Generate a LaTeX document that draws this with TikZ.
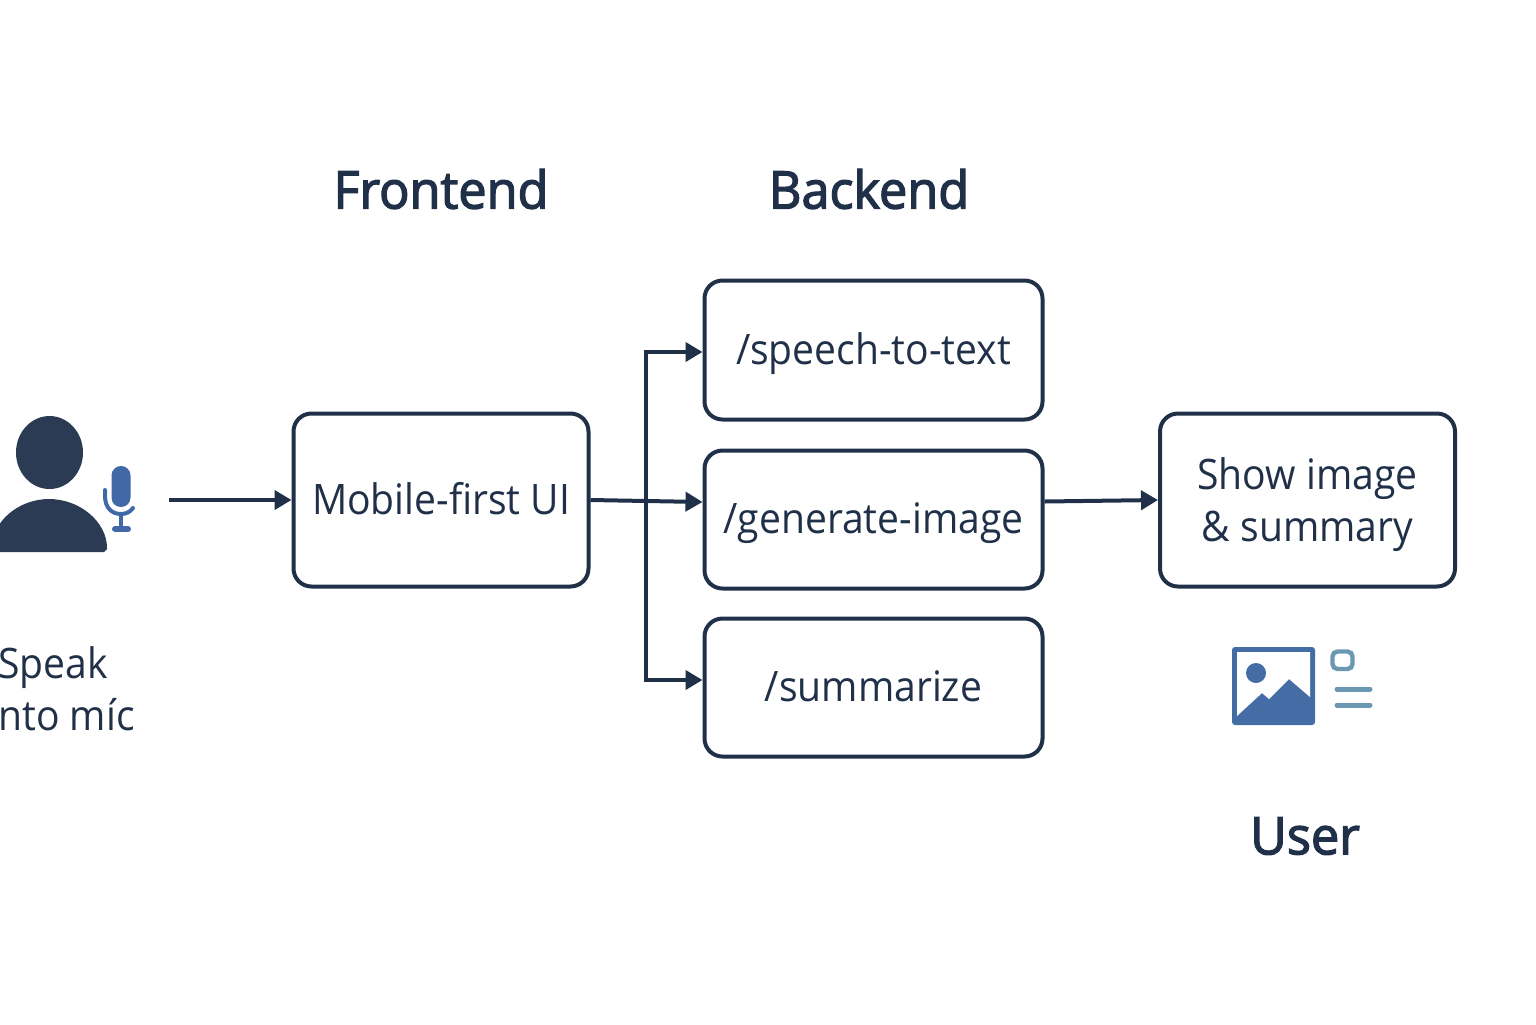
\documentclass[tikz,border=0pt]{standalone}
\usepackage{fontspec}
\usepackage{tikz}
\usetikzlibrary{arrows.meta}
\setmainfont[FakeStretch=0.93]{Open Sans}
\newfontfamily\headfont[FakeStretch=0.97,FakeBold=2.5]{Open Sans}
\definecolor{navy}{HTML}{1F3048}
\definecolor{person}{HTML}{2A3B53}
\definecolor{micblue}{HTML}{4169A8}
\definecolor{picblue}{HTML}{446DA5}
\definecolor{docblue}{HTML}{6A98B3}
\tikzset{
  box/.style={draw=navy,line width=2pt,rounded corners=9pt,text=navy,font=\fontsize{21}{26}\selectfont,align=center,inner sep=0pt},
  onebox/.style={box,text height=18pt,text depth=4pt},
  head/.style={text=navy,font=\headfont\fontsize{26}{30}\selectfont,inner sep=0pt},
  lab/.style={text=navy,font=\fontsize{21}{26}\selectfont,inner sep=0pt},
  flow/.style={draw=navy,line width=2pt,-{Triangle[length=8.5pt,width=9.5pt]}}
}
\begin{document}
\begin{tikzpicture}[x=0.5pt,y=-0.5pt]
  \useasboundingbox (0,0) rectangle (1536,1024);
  % column titles
  \node[head] (front) at (441,189) {Frontend};
  \node[head] (back)  at (869,189) {Backend};
  \node[head] (user)  at (1305,836) {User};
  % boxes, corners given in reference pixels
  \node[onebox,minimum width=147.5pt,minimum height=86.5pt] (ui)  at (441,500) {Mobile-first UI};
  \node[onebox,minimum width=169pt,minimum height=69.5pt]   (spe) at (873.5,350) {/speech-to-text};
  \node[onebox,minimum width=169pt,minimum height=69pt]     (gen) at (873.5,519.5) {/generate-image};
  \node[onebox,minimum width=169pt,minimum height=69pt]     (sum) at (873.5,687.5) {/summarize};
  \node[box,minimum width=147.5pt,minimum height=86.5pt] (show) at (1307.5,500) {\rule{0pt}{21pt}Show image\\\& summary};
  \node[lab,anchor=west,align=left] (mic) at (-2,689) {Speak\\nto míc};
  % person and microphone
  \fill[person] (49.5,452.5) ellipse [x radius=33.5,y radius=36.5];
  \fill[person] (-9,552) .. controls (-9,520) and (20,499) .. (49,499)
    .. controls (80,499) and (107,522) .. (107,548) -- (107,549) -- (104,552) -- cycle;
  \fill[micblue,rounded corners=4.7pt] (111.5,466) rectangle (130.5,507);
  \draw[micblue,line width=2pt,line cap=round] (105,490) -- (105,496)
    .. controls (105,508) and (112,514) .. (121,514) .. controls (126,514) and (130,512) .. (133,508);
  \draw[micblue,line width=2.2pt] (121,514) -- (121,529);
  \draw[micblue,line width=3pt,line cap=round] (115,529) -- (128,529);
  % picture and text icon
  \fill[picblue,rounded corners=1.5pt] (1232,647) rectangle (1315,725);
  \fill[white] (1237,652) -- (1310,652) -- (1310,697) -- (1289,679) -- (1269,699) -- (1262,693) -- (1237,716) -- cycle;
  \fill[picblue] (1256,673) circle [radius=10];
  \draw[docblue,line width=2.2pt,rounded corners=2.5pt] (1332.5,651.5) rectangle (1352.5,669);
  \draw[docblue,line width=2.5pt,line cap=round] (1337,689) -- (1370,689);
  \draw[docblue,line width=2.5pt,line cap=round] (1337,705) -- (1370,705);
  % connectors
  \coordinate (micout) at (169,500);
  \coordinate (genin) at (gen.west |- 0,502);
  \coordinate (fork) at (646,502);
  \draw[flow] (micout) -- (ui.west);
  \draw[flow] (ui.east) -- (genin);
  \coordinate (spein) at (spe.west |- 0,352);
  \coordinate (sumin) at (sum.west |- 0,680);
  \foreach \x in {spein,sumin}{\draw[flow] (fork) |- (\x);}
  \coordinate (genout) at (gen.east |- 0,501.5);
  \draw[flow] (genout) -- (show.west);
\end{tikzpicture}
\end{document}
